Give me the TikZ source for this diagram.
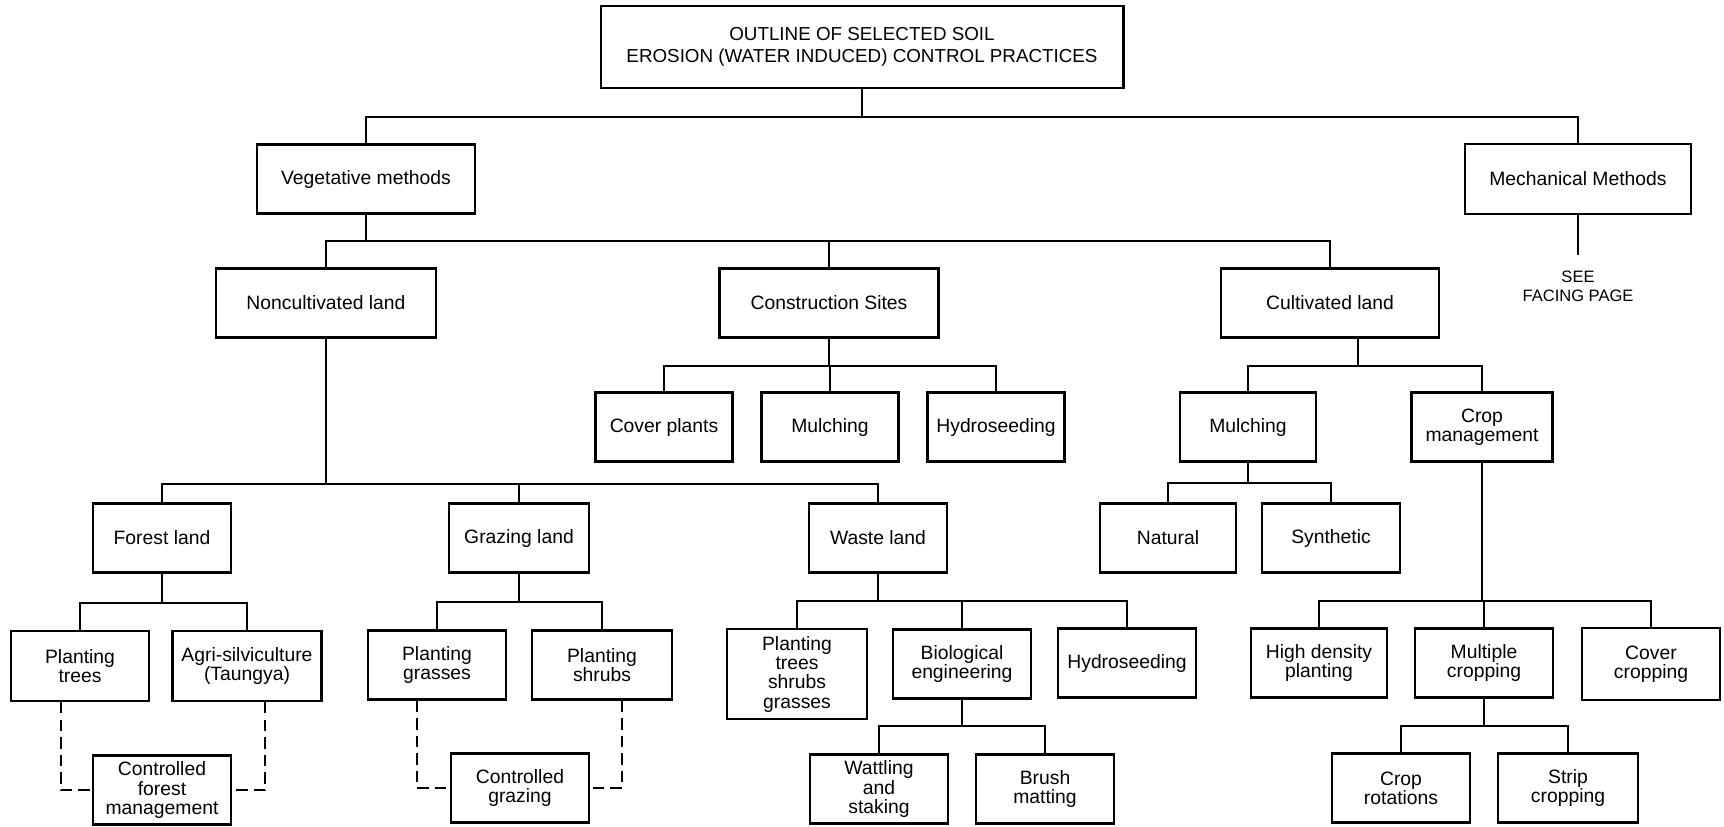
\documentclass[tikz,border=0pt]{standalone}
\usepackage{fontspec}
\setmainfont{Liberation Sans}
\usetikzlibrary{positioning}
\tikzset{
  box/.style={draw, line width=1.2pt, align=center, inner sep=1pt,
    minimum width=2.76cm, minimum height=1.38cm},
  link/.style={line width=1pt},
  guide/.style={line width=1pt, dash pattern=on 6.5pt off 3.5pt},
}

\begin{document}
\begin{tikzpicture}[x=0.02cm, y=-0.02cm, font=\fontsize{11}{11}\selectfont]
% one unit = one pixel of the 1724 x 826 sheet, y grows downwards
\useasboundingbox (0,0) rectangle (1724,826);
% top
\node[box, minimum width=10.46cm, minimum height=1.64cm, font=\fontsize{10.7}{12.3}\selectfont] (title) at (862,47)
  {OUTLINE OF SELECTED SOIL\\EROSION (WATER INDUCED) CONTROL PRACTICES};
% methods
\node[box, minimum width=4.36cm] (veg) at (366,179) {Vegetative methods};
\node[box, minimum width=4.52cm, minimum height=1.4cm] (mech) at (1578,179) {Mechanical Methods};
\node[font=\fontsize{9.4}{10.8}\selectfont, align=center, inner sep=0pt] (see) at (1578,286) {SEE\\FACING PAGE};
% land types
\node[box, minimum width=4.4cm] (noncult) at (326,303) {Noncultivated land};
\node[box, minimum width=4.38cm] (constr) at (829,303) {Construction Sites};
\node[box, minimum width=4.36cm] (cult) at (1330,303) {Cultivated land};
% construction sites / cultivated land
\node[box, minimum width=2.74cm] (coverpl) at (664,427) {Cover plants};
\node[box, minimum width=2.74cm] (mulchcs) at (830,427) {Mulching};
\node[box, minimum width=2.74cm] (hydrocs) at (996,427) {Hydroseeding};
\node[box, minimum width=2.72cm] (mulchcl) at (1248,427) {Mulching};
\node[box, minimum width=2.82cm] (cropmg) at (1482,427) {Crop\\management};
% noncultivated land / mulching
\node[box] (forest) at (162,538) {Forest land};
\node[box, minimum width=2.8cm] (grazing) at (519,538) {Grazing land};
\node[box] (waste) at (878,538) {Waste land};
\node[box, minimum width=2.72cm] (natural) at (1168,538) {Natural};
\node[box] (synth) at (1331,538) {Synthetic};
% practices
\node[box, minimum height=1.4cm] (ptrees) at (80,666) {Planting\\trees};
\node[box, minimum width=2.98cm, minimum height=1.4cm] (agri) at (247,666) {Agri-silviculture\\(Taungya)};
\node[box] (pgrass) at (437,665) {Planting\\grasses};
\node[box, minimum width=2.8cm] (pshrub) at (602,665) {Planting\\shrubs};
\node[box, minimum width=2.8cm, minimum height=1.8cm] (ptsg) at (797,674) {Planting\\trees\\shrubs\\grasses};
\node[box] (bioeng) at (962,664) {Biological\\engineering};
\node[box] (hydrowl) at (1127,663) {Hydroseeding};
\node[box, minimum width=2.72cm] (hdens) at (1319,663) {High density\\planting};
\node[box] (multi) at (1484,663) {Multiple\\cropping};
\node[box, minimum height=1.44cm] (covercr) at (1651,664) {Cover\\cropping};
% bottom row
\node[box] (cforest) at (162,790) {Controlled\\forest\\management};
\node[box] (cgraze) at (520,788) {Controlled\\grazing};
\node[box] (wattle) at (879,789) {Wattling\\and\\staking};
\node[box] (brush) at (1045,789) {Brush\\matting};
\node[box] (croprot) at (1401,788) {Crop\\rotations};
\node[box, minimum width=2.8cm] (strip) at (1568,788) {Strip\\cropping};
% tree links (bar heights in pixels)
\foreach \c in {veg,mech}
  \draw[link] (title.south) -- (title.south |- 0,117) -| (\c.north);
\draw[link] (mech.south) -- ([yshift=0.3cm]see.north);
\foreach \c in {noncult,constr,cult}
  \draw[link] (veg.south) -- (veg.south |- 0,241) -| (\c.north);
\foreach \c in {coverpl,mulchcs,hydrocs}
  \draw[link] (constr.south) -- (constr.south |- 0,366) -| (\c.north);
\coordinate (cultdrop) at ([xshift=0.56cm]cult.south);
\foreach \c in {mulchcl,cropmg}
  \draw[link] (cultdrop) -- (cultdrop |- 0,366) -| (\c.north);
\foreach \c in {forest,grazing,waste}
  \draw[link] (noncult.south) -- (noncult.south |- 0,484) -| (\c.north);
\foreach \c in {natural,synth}
  \draw[link] (mulchcl.south) -- (mulchcl.south |- 0,483) -| (\c.north);
\foreach \c in {ptrees,agri}
  \draw[link] (forest.south) -- (forest.south |- 0,603) -| (\c.north);
\foreach \c in {pgrass,pshrub}
  \draw[link] (grazing.south) -- (grazing.south |- 0,602) -| (\c.north);
\foreach \c in {ptsg,bioeng,hydrowl}
  \draw[link] (waste.south) -- (waste.south |- 0,601) -| (\c.north);
\foreach \c in {hdens,multi,covercr}
  \draw[link] (cropmg.south) -- (cropmg.south |- 0,601) -| (\c.north);
\foreach \c in {wattle,brush}
  \draw[link] (bioeng.south) -- (bioeng.south |- 0,726) -| (\c.north);
\foreach \c in {croprot,strip}
  \draw[link] (multi.south) -- (multi.south |- 0,726) -| (\c.north);
% dashed links to the controlled practices
\draw[guide] ([xshift=-0.38cm]ptrees.south) |- (cforest.west);
\draw[guide] ([xshift=0.36cm]agri.south) |- (cforest.east);
\draw[guide] ([xshift=-0.4cm]pgrass.south) |- (cgraze.west);
\draw[guide] ([xshift=0.4cm]pshrub.south) |- (cgraze.east);
\end{tikzpicture}
\end{document}
